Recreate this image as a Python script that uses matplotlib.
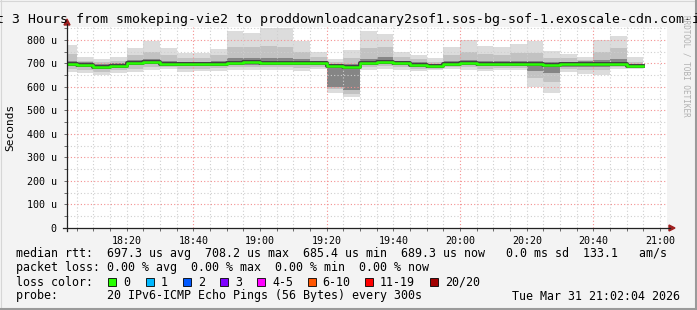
import numpy as np
import matplotlib.pyplot as plt
from matplotlib.patches import Rectangle, Polygon
from matplotlib.lines import Line2D

W, H = 697, 310

# 5-minute bins starting 18:00 (minutes after 18:00)
bin_start = list(range(0, 180, 5))[:35]

# smoke / median values in microseconds
median = [699, 695, 686, 691, 703, 708, 699, 697, 697, 699, 703, 706, 701, 701, 703, 701, 688, 685,
          703, 708, 701, 695, 689, 699, 703, 697, 699, 697, 699, 694, 697, 699, 699, 697, 689]
hi = [779, 726, 718, 726, 765, 797, 765, 746, 746, 762, 838, 831, 850, 850, 797, 750, 718, 757,
      838, 826, 750, 736, 722, 769, 800, 774, 772, 783, 797, 753, 740, 726, 800, 817, 726]
p90 = [740, 712, 705, 712, 735, 750, 735, 725, 725, 735, 772, 768, 775, 770, 750, 728, 705, 722,
       765, 770, 728, 718, 708, 735, 750, 740, 738, 745, 745, 722, 722, 715, 750, 765, 708]
q3 = [712, 705, 697, 702, 714, 720, 710, 708, 708, 710, 722, 725, 722, 725, 718, 712, 696, 698,
      720, 728, 712, 705, 698, 712, 716, 710, 711, 710, 712, 704, 708, 710, 716, 720, 698]
q1 = [688, 684, 676, 681, 692, 697, 691, 687, 688, 690, 692, 695, 692, 692, 692, 692, 600, 585,
      694, 698, 692, 686, 682, 690, 692, 688, 690, 688, 668, 660, 686, 686, 684, 689, 680]
p10 = [675, 672, 665, 670, 678, 685, 684, 676, 678, 680, 684, 686, 684, 684, 680, 684, 590, 572,
       685, 688, 684, 678, 678, 684, 684, 678, 682, 682, 640, 620, 676, 672, 670, 684, 680]
lo = [663, 658, 651, 658, 662, 670, 675, 662, 666, 666, 672, 672, 670, 672, 666, 675, 574, 556,
      672, 675, 672, 666, 670, 675, 672, 666, 672, 672, 601, 573, 662, 656, 651, 675, 675]

x_label_min = [20, 40, 60, 80, 100, 120, 140, 160, 180]
x_labels = ["18:20", "18:40", "19:00", "19:20", "19:40", "20:00", "20:20", "20:40", "21:00"]
x_red_min = [40, 80, 120, 160]
y_ticks = [0, 100, 200, 300, 400, 500, 600, 700, 800]
y_labels = ["0", "100 u", "200 u", "300 u", "400 u", "500 u", "600 u", "700 u", "800 u"]

loss_names = ["0", "1", "2", "3", "4-5", "6-10", "11-19", "20/20"]
loss_colors = ["#26ff00", "#00b8ff", "#0059ff", "#7e00ff", "#ff00ff", "#ff5500", "#ff0000", "#a10000"]
loss_x = [108, 146, 183, 220, 257, 307.5, 365, 430]

t0, t1 = 2.067, 182.067   # 18:02:04 .. 21:02:04
ymax = 855

mono = "DejaVu Sans Mono"
plt.rcParams['font.family'] = mono


def fx(x):
    return x / W


def fy(y):
    return 1 - y / H


fig = plt.figure(figsize=(W / 100, H / 100), dpi=100)
fig.patch.set_facecolor("#f3f3f3")

ax = fig.add_axes([fx(67), fy(228), 600 / W, (228 - 27) / H])
ax.set_facecolor("white")
ax.set_xlim(t0, t1)
ax.set_ylim(0, ymax)
for s in ax.spines.values():
    s.set_visible(False)

edges = bin_start + [bin_start[-1] + 5]


def ext(v):
    return list(v) + [v[-1]]


ax.fill_between(edges, ext(lo), ext(hi), step="post", color="#dcdcdc", lw=0, zorder=1)
ax.fill_between(edges, ext(p10), ext(p90), step="post", color="#c2c2c2", lw=0, zorder=1)
ax.fill_between(edges, ext(q1), ext(q3), step="post", color="#858585", lw=0, zorder=1)

# grid on top of smoke, like rrdtool
for m in range(5, 185, 5):
    if m in x_red_min:
        continue
    ax.axvline(m, color="#cfcfcf", lw=0.8, ls=(0, (1, 2)), zorder=2)
for v in range(50, 900, 100):
    ax.axhline(v, color="#cfcfcf", lw=0.8, ls=(0, (1, 2)), zorder=2)
for m in x_red_min:
    ax.axvline(m, color="#f49090", lw=0.8, ls=(0, (1, 2)), zorder=2)
for v in y_ticks[1:]:
    ax.axhline(v, color="#f49090", lw=0.8, ls=(0, (1, 2)), zorder=2)

ax.step(edges, ext(median), where="post", color="#404040", lw=2.8, zorder=3)
ax.step(edges, ext(median), where="post", color=loss_colors[0], lw=1.8, zorder=4)

ax.set_xticks(x_label_min)
ax.set_xticklabels(x_labels, fontsize=7.2)
ax.set_yticks(y_ticks)
ax.set_yticklabels(y_labels, fontsize=7.2)
ax.set_xticks(range(5, 185, 5), minor=True)
ax.set_yticks(range(50, 900, 50), minor=True)
ax.tick_params(axis="both", which="both", length=2.5, width=0.6, color="#555555", pad=5)
ax.tick_params(axis="x", pad=3.2)

# axes with arrows
fig.add_artist(Line2D([fx(63), fx(670)], [fy(228), fy(228)], color="#222222", lw=0.9))
fig.add_artist(Line2D([fx(67), fx(67)], [fy(231), fy(24)], color="#222222", lw=0.9))
fig.add_artist(Polygon([[fx(669), fy(225)], [fx(675), fy(228)], [fx(669), fy(231)]],
                       closed=True, color="#a02020"))
fig.add_artist(Polygon([[fx(64), fy(25)], [fx(67), fy(19)], [fx(70), fy(25)]],
                       closed=True, color="#a02020"))

fig.text(0.5, fy(19), "Last 3 Hours from smokeping-vie2 to "
         "proddownloadcanary2sof1.sos-bg-sof-1.exoscale-cdn.com-ipv6",
         ha="center", va="center", fontsize=9.5)
fig.text(fx(10), fy(127), "Seconds", rotation=90, ha="center", va="center", fontsize=8)
fig.text(fx(686), fy(15), "RRDTOOL / TOBI OETIKER", rotation=270, ha="center", va="top",
         fontsize=5.5, color="#b0b0b0")

fs = 8.35
fig.text(fx(16), fy(253), "median rtt:  697.3 us avg  708.2 us max  685.4 us min  "
         "689.3 us now   0.0 ms sd  133.1   am/s", ha="left", va="center", fontsize=fs)
fig.text(fx(16), fy(268), "packet loss: 0.00 % avg  0.00 % max  0.00 % min  0.00 % now",
         ha="left", va="center", fontsize=fs)
fig.text(fx(16), fy(282), "loss color:", ha="left", va="center", fontsize=fs)
for lx, name, col in zip(loss_x, loss_names, loss_colors):
    fig.add_artist(Rectangle((fx(lx), fy(286)), 8 / W, 8 / H, facecolor=col,
                             edgecolor="black", lw=0.6))
    fig.text(fx(lx + 15), fy(282), name, ha="left", va="center", fontsize=fs)
fig.text(fx(16), fy(296), "probe:       20 IPv6-ICMP Echo Pings (56 Bytes) every 300s",
         ha="left", va="center", fontsize=fs)
fig.text(fx(680), fy(296), "Tue Mar 31 21:02:04 2026", ha="right", va="center", fontsize=fs)

# 3d frame
fig.add_artist(Line2D([0, 1], [fy(0.5), fy(0.5)], color="#d6d6d6", lw=0.8))
fig.add_artist(Line2D([fx(0.5), fx(0.5)], [0, 1], color="#d6d6d6", lw=0.8))
fig.add_artist(Line2D([0, 1], [fy(309), fy(309)], color="#9a9a9a", lw=1.5))
fig.add_artist(Line2D([fx(696), fx(696)], [0, 1], color="#9a9a9a", lw=1.5))

fig.savefig("out.png", dpi=100, facecolor=fig.get_facecolor())
